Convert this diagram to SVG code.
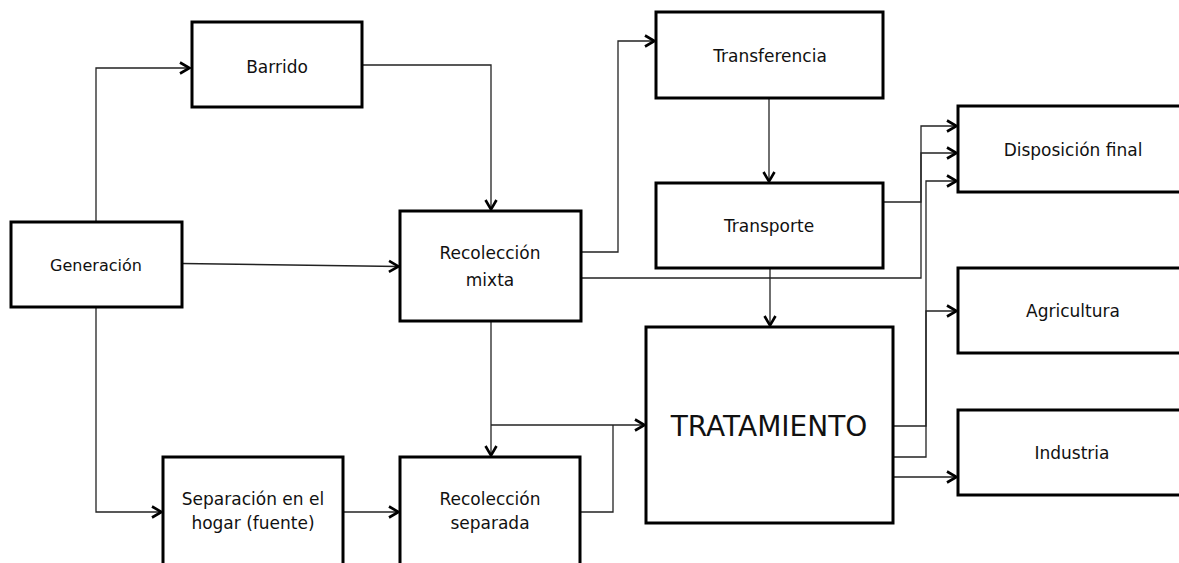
<svg xmlns="http://www.w3.org/2000/svg" width="1179" height="563" viewBox="0 0 1179 563">
<style>
.box{fill:#fff;stroke:#000;stroke-width:3}
.lbl{font-family:"DejaVu Sans",Verdana,sans-serif;font-size:17px;fill:#111;text-anchor:middle}
.big{font-size:28px}
.con{fill:none;stroke:#222;stroke-width:1.3}
</style>
<defs>
<marker id="ah" markerUnits="userSpaceOnUse" markerWidth="14" markerHeight="14" viewBox="0 0 14 14" refX="11.5" refY="7" orient="auto">
<path d="M1.5,1.5 L11,7 L1.5,12.5" fill="none" stroke="#000" stroke-width="2.6"/>
</marker>
</defs>
<rect width="1179" height="563" fill="#fff"/>
<g id="connectors">
<path class="con" d="M96,222 V68 H190" marker-end="url(#ah)"/>
<path class="con" d="M182,263.5 L399,266.5" marker-end="url(#ah)"/>
<path class="con" d="M96,307 V512 H162" marker-end="url(#ah)"/>
<path class="con" d="M362,65 H491 V210" marker-end="url(#ah)"/>
<path class="con" d="M581,252 H618 V41 H655" marker-end="url(#ah)"/>
<path class="con" d="M581,278 H921 V126 H957" marker-end="url(#ah)"/>
<path class="con" d="M769,98 V182" marker-end="url(#ah)"/>
<path class="con" d="M883,202 H921 V153 H957" marker-end="url(#ah)"/>
<path class="con" d="M770,268 V326" marker-end="url(#ah)"/>
<path class="con" d="M491,321 V456" marker-end="url(#ah)"/>
<path class="con" d="M491,425 H645" marker-end="url(#ah)"/>
<path class="con" d="M580,512 H613 V425"/>
<path class="con" d="M343,512 H399" marker-end="url(#ah)"/>
<path class="con" d="M893,426 H926 V181 H957" marker-end="url(#ah)"/>
<path class="con" d="M893,457 H926 V311 H957" marker-end="url(#ah)"/>
<path class="con" d="M893,477 H957" marker-end="url(#ah)"/>
</g>
<g id="generacion"><rect class="box" x="11" y="222" width="171" height="85"/><text class="lbl" x="96" y="271" style="font-size:16px">Generación</text></g>
<g id="barrido"><rect class="box" x="192" y="22" width="170" height="85"/><text class="lbl" x="277" y="73">Barrido</text></g>
<g id="recoleccion-mixta"><rect class="box" x="400" y="211" width="181" height="110"/><text class="lbl" x="490" y="259">Recolección</text><text class="lbl" x="490" y="286">mixta</text></g>
<g id="transferencia"><rect class="box" x="656" y="12" width="227" height="86"/><text class="lbl" x="770" y="62">Transferencia</text></g>
<g id="transporte"><rect class="box" x="656" y="183" width="227" height="85"/><text class="lbl" x="769" y="232">Transporte</text></g>
<g id="tratamiento"><rect class="box" x="646" y="327" width="247" height="196"/><text class="lbl big" x="769" y="436">TRATAMIENTO</text></g>
<g id="disposicion-final"><rect class="box" x="958" y="106" width="240" height="86"/><text class="lbl" x="1073" y="156">Disposición final</text></g>
<g id="agricultura"><rect class="box" x="958" y="268" width="240" height="85"/><text class="lbl" x="1073" y="317">Agricultura</text></g>
<g id="industria"><rect class="box" x="958" y="410" width="240" height="85"/><text class="lbl" x="1072" y="459">Industria</text></g>
<g id="separacion-hogar"><rect class="box" x="163" y="457" width="180" height="130"/><text class="lbl" x="253" y="505">Separación en el</text><text class="lbl" x="253" y="529">hogar (fuente)</text></g>
<g id="recoleccion-separada"><rect class="box" x="400" y="457" width="180" height="130"/><text class="lbl" x="490" y="505">Recolección</text><text class="lbl" x="490" y="529">separada</text></g>
</svg>
